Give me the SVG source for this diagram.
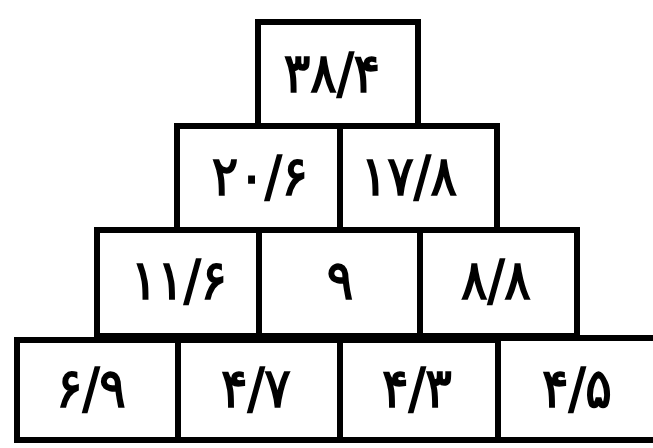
<svg xmlns="http://www.w3.org/2000/svg" width="653" height="448" viewBox="0 0 653 448">
<style>
.box{fill:#fff;stroke:#000;stroke-width:6;stroke-linejoin:miter}
.t{font-family:"DejaVu Sans Condensed","DejaVu Sans",sans-serif;font-weight:normal;font-size:55px;fill:#000;stroke:#000;stroke-width:1.6;text-anchor:middle;dominant-baseline:central;letter-spacing:5px}
</style>
<rect width="653" height="448" fill="#fff"/>
<g id="n1"><rect class="box" x="258" y="22" width="160" height="105"/><text class="t" x="332" y="73">۳۸/۴</text></g>
<g id="n2"><rect class="box" x="177" y="126" width="163" height="104"/><text class="t" x="260" y="176">۲۰/۶</text></g>
<g id="n3"><rect class="box" x="340" y="126" width="157" height="104"/><text class="t" x="409" y="176">۱۷/۸</text></g>
<g id="n4"><rect class="box" x="97" y="230" width="162" height="106"/><text class="t" x="179" y="280">۱۱/۶</text></g>
<g id="n5"><rect class="box" x="259" y="230" width="161" height="106"/><text class="t" x="340" y="280">۹</text></g>
<g id="n6"><rect class="box" x="420" y="230" width="157" height="106"/><text class="t" x="496" y="280">۸/۸</text></g>
<g id="n7"><rect class="box" x="17" y="340" width="161" height="100"/><text class="t" x="91" y="388">۶/۹</text></g>
<g id="n8"><rect class="box" x="178" y="340" width="162" height="100"/><text class="t" x="256" y="388">۴/۷</text></g>
<g id="n9"><rect class="box" x="340" y="340" width="158" height="100"/><text class="t" x="417" y="388">۴/۳</text></g>
<g id="n10"><rect class="box" x="498" y="338" width="165" height="102"/><text class="t" x="577" y="388">۴/۵</text></g>
<g id="connectors"></g>
</svg>
